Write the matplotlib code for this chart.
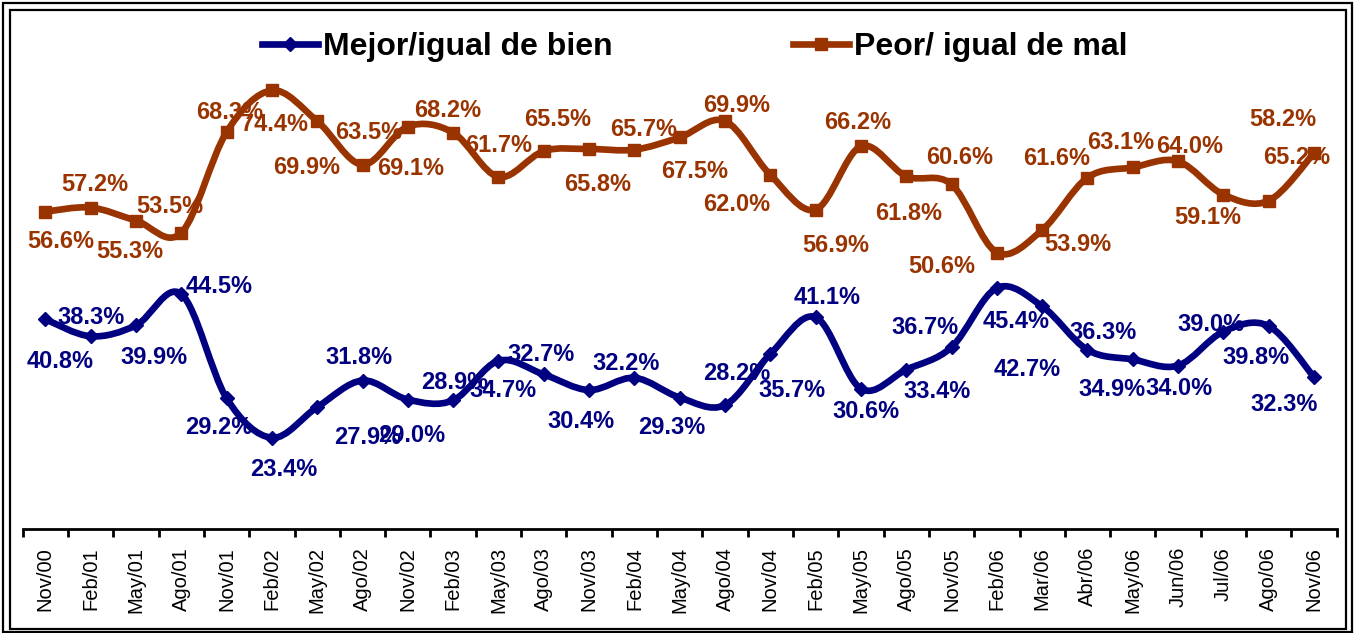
import numpy as np
import matplotlib
matplotlib.use("Agg")
import matplotlib.pyplot as plt
from matplotlib.path import Path
from matplotlib.patches import PathPatch, Rectangle
from matplotlib.lines import Line2D

# ---------------- data ----------------
categories = ["Nov/00", "Feb/01", "May/01", "Ago/01", "Nov/01", "Feb/02", "May/02",
              "Ago/02", "Nov/02", "Feb/03", "May/03", "Ago/03", "Nov/03", "Feb/04",
              "May/04", "Ago/04", "Nov/04", "Feb/05", "May/05", "Ago/05", "Nov/05",
              "Feb/06", "Mar/06", "Abr/06", "May/06", "Jun/06", "Jul/06", "Ago/06",
              "Nov/06"]

mejor = [40.8, 38.3, 39.9, 44.5, 29.2, 23.4, 27.9, 31.8, 29.0, 28.9, 34.7, 32.7,
         30.4, 32.2, 29.3, 28.2, 35.7, 41.1, 30.6, 33.4, 36.7, 45.4, 42.7, 36.3,
         34.9, 34.0, 39.0, 39.8, 32.3]

peor = [56.6, 57.2, 55.3, 53.5, 68.3, 74.4, 69.9, 63.5, 69.1, 68.2, 61.7, 65.5,
        65.8, 65.7, 67.5, 69.9, 62.0, 56.9, 66.2, 61.8, 60.6, 50.6, 53.9, 61.6,
        63.1, 64.0, 59.1, 58.2, 65.2]

series_names = ["Mejor/igual de bien", "Peor/ igual de mal"]

# ---------------- label offsets (pixels, +dy = downward) ----------------
mejor_off = [(15, 40), (0, -21), (18, 30), (38, -10), (-8, 27), (12, 30), (50, 28),
             (-4, -25), (4, 34), (2, -20), (5, 28), (-3, -22), (-8, 29), (-8, -16),
             (-8, 28), (12, -34), (22, 35), (11, -22), (5, 21), (31, 20), (-27, -22),
             (19, 32), (-15, 61), (16, -19), (-21, 28), (1, 21), (-12, -9), (-13, 29),
             (-30, 25)]
peor_off = [(15, 28), (4, -25), (-6, 29), (-11, -28), (3, -21), (3, 32), (-11, 44),
            (6, -34), (3, 40), (-5, -24), (0, -33), (14, -34), (9, 33), (9, -22),
            (15, 32), (12, -18), (-34, 28), (20, 34), (-3, -26), (2, 35), (8, -29),
            (-55, 12), (36, 12), (-31, -21), (-12, -27), (12, -17), (-16, 21),
            (14, -83), (-17, 2)]

BLUE = "#000080"
RED = "#993300"
FONT = ["Liberation Sans", "DejaVu Sans"]
plt.rcParams["font.family"] = FONT

W, H = 1354, 633
fig = plt.figure(figsize=(W / 100, H / 100), dpi=100)
fig.patch.set_facecolor("white")

# axes placement (pixels)
ax_left, ax_right = 22.7, 1336.7
ax_bottom_px, ax_top_px = 529.0, 52.3
ax = fig.add_axes([ax_left / W, (H - ax_bottom_px) / H,
                   (ax_right - ax_left) / W, (ax_bottom_px - ax_top_px) / H])
ax.set_xlim(-0.5, len(categories) - 0.5)
ax.set_ylim(10, 80)
ax.patch.set_alpha(0)
for s in ["top", "right", "left"]:
    ax.spines[s].set_visible(False)
ax.spines["bottom"].set_linewidth(2.0)
ax.spines["bottom"].set_color("black")
ax.set_yticks([])

x = np.arange(len(categories))
ax.set_xticks(x)
ax.set_xticklabels(categories, rotation=90, fontsize=14.5, va="top", ha="center")
ax.tick_params(axis="x", which="major", length=0, pad=13)
ax.set_xticks(np.arange(-0.5, len(categories), 1.0), minor=True)
ax.tick_params(axis="x", which="minor", length=6, width=2.0, direction="out", color="black")


def smooth_path(xs, ys):
    pts = np.column_stack([xs, ys]).astype(float)
    n = len(pts)
    verts = [pts[0]]
    codes = [Path.MOVETO]
    for i in range(n - 1):
        p0 = pts[i - 1] if i > 0 else pts[i]
        p1 = pts[i]
        p2 = pts[i + 1]
        p3 = pts[i + 2] if i + 2 < n else pts[i + 1]
        c1 = p1 + (p2 - p0) / 6.0
        c2 = p2 - (p3 - p1) / 6.0
        verts += [c1, c2, p2]
        codes += [Path.CURVE4] * 3
    return Path(verts, codes)


for vals, col, mk, ms, offs in [(mejor, BLUE, "D", 7, mejor_off),
                                (peor, RED, "s", 9, peor_off)]:
    patch = PathPatch(smooth_path(x, vals), facecolor="none", edgecolor=col,
                      lw=4.8, capstyle="round", joinstyle="round", zorder=3)
    ax.add_patch(patch)
    ax.plot(x, vals, linestyle="none", marker=mk, ms=ms, color=col,
            markeredgecolor=col, zorder=4, clip_on=False)
    for xi, v, (dx, dy) in zip(x, vals, offs):
        ax.annotate(f"{v:.1f}%", (xi, v), xytext=(dx, -(dy + 8.5)),
                    textcoords="offset pixels", ha="center", va="baseline",
                    fontsize=17, fontweight="bold", color=col, zorder=2,
                    annotation_clip=False)

# legend
handles = [Line2D([], [], color=BLUE, lw=4.8, marker="D", ms=7),
           Line2D([], [], color=RED, lw=4.8, marker="s", ms=9)]
fig.legend(handles, series_names, loc="center left",
           bbox_to_anchor=(262 / W, 1 - 47 / H), ncol=2, frameon=False,
           prop={"family": FONT, "weight": "bold", "size": 23},
           handlelength=1.75, handletextpad=0.15, columnspacing=5.65,
           borderpad=0, borderaxespad=0)

# double frame around the chart area
def frame(x0, y0, x1, y1, lw):
    fig.add_artist(Rectangle((x0 / W, 1 - y1 / H), (x1 - x0) / W, (y1 - y0) / H,
                             transform=fig.transFigure, fill=False,
                             edgecolor="black", lw=lw))

frame(2.5, 2.5, 1351.5, 631.5, 1.6)
frame(9.5, 9.5, 1346, 628.5, 1.6)

fig.savefig("out.png", dpi=100, facecolor="white")
